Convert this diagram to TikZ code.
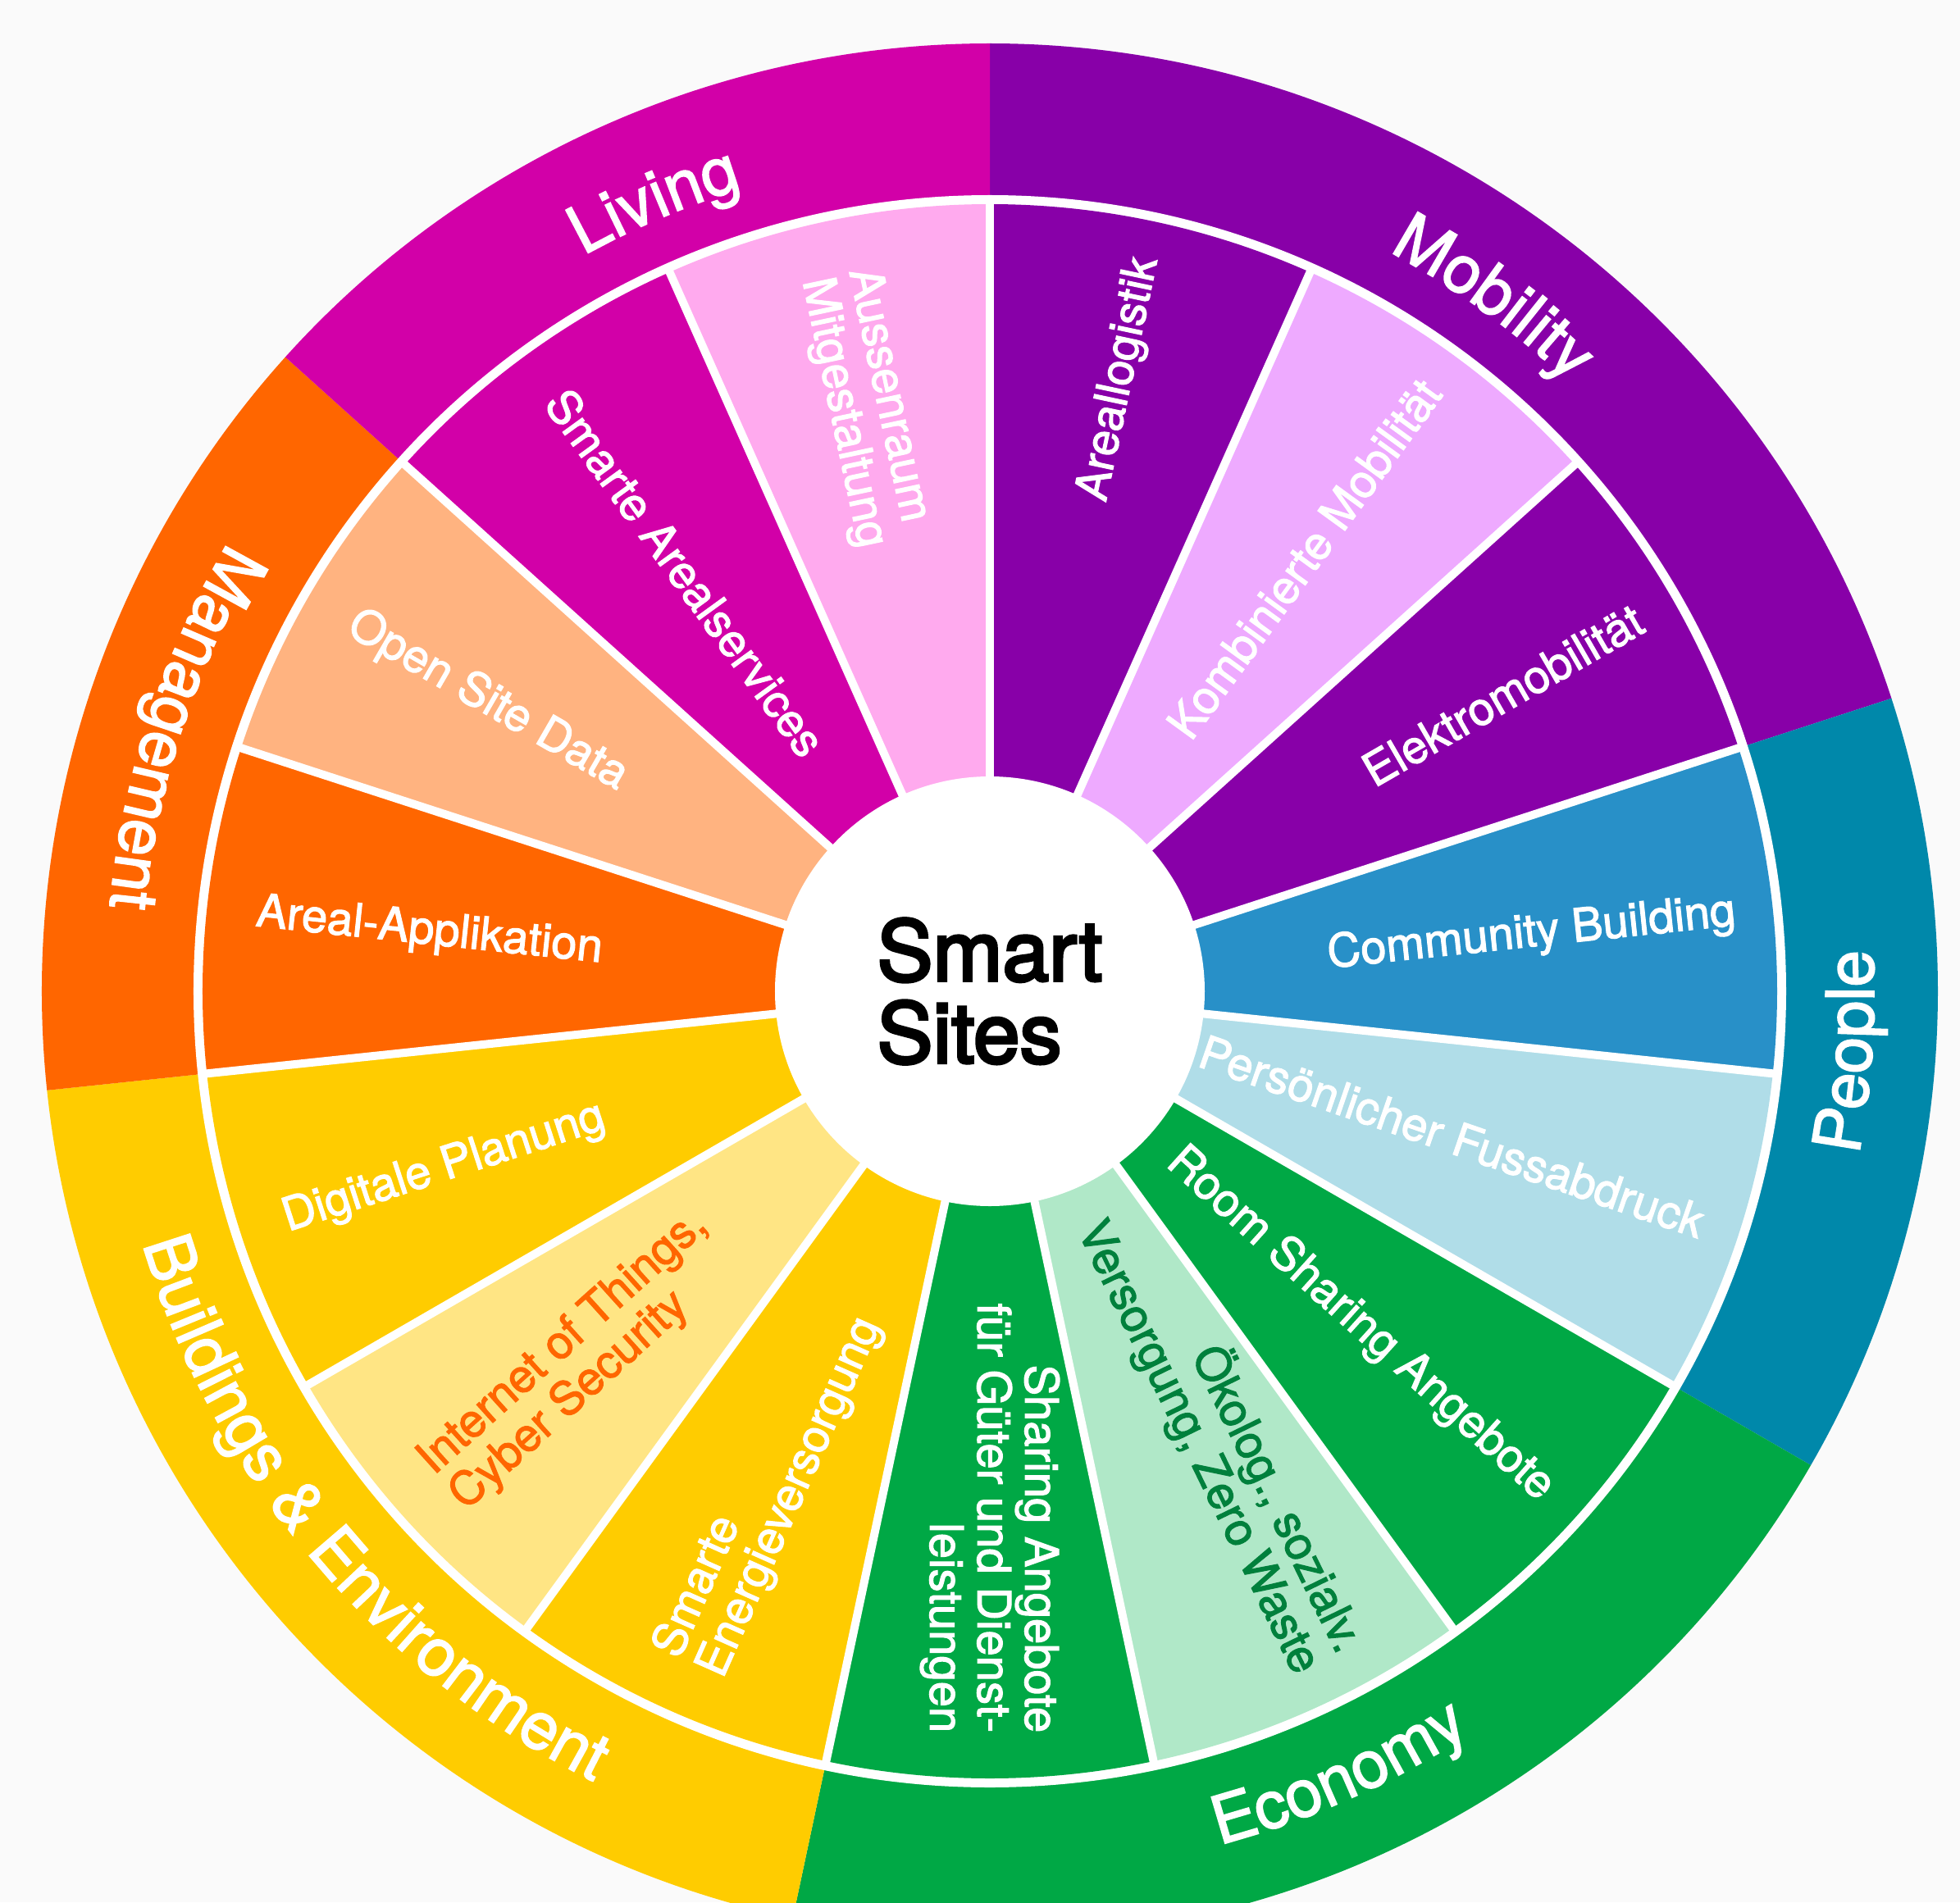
\documentclass[tikz,border=0pt]{standalone}
\usepackage{fontspec}
\setmainfont{TeX Gyre Heros}
\newfontface\labfont{TeX Gyre Heros}[FakeBold=2]
\newfontface\titfont{TeX Gyre Heros}[FakeBold=3.5]
\usetikzlibrary{decorations.text}
\definecolor{cMob}{HTML}{8800A8}
\definecolor{cLiv}{HTML}{D200A8}
\definecolor{cMan}{HTML}{FF6600}
\definecolor{cBui}{HTML}{FFCC00}
\definecolor{cEco}{HTML}{00A845}
\definecolor{cPeo}{HTML}{0088AA}
\definecolor{cCom}{HTML}{2890C8}
\definecolor{cPer}{HTML}{B0DDE8}
\definecolor{cKom}{HTML}{EEAAFF}
\definecolor{cAus}{HTML}{FFAAEE}
\definecolor{cOpe}{HTML}{FFB380}
\definecolor{cIot}{HTML}{FFE584}
\definecolor{cOek}{HTML}{B0E8C8}
\definecolor{cOekT}{HTML}{00803C}
\definecolor{bgc}{HTML}{FAFAFA}
\newcommand\mysector[4]{\fill[#1] (0,0) -- (#2:#4) arc[start angle=#2, end angle=#3, radius=#4] -- cycle;}
\newcommand\outerlab{\labfont\fontsize{23pt}{28pt}\selectfont\color{white}}
\tikzset{
  seglabel/.style={inner sep=0pt, font=\labfont\fontsize{16pt}{16.5pt}\selectfont, text=white},
  rlab/.style={seglabel, anchor=east, align=right},
  llab/.style={seglabel, anchor=west, align=left},
  sep/.style={white, line width=1mm},
  ringtext/.style={decorate, decoration={text along path, text align=center, text={|\outerlab|#1}}}
}
\begin{document}
\begin{tikzpicture}
\useasboundingbox (-120.7mm,-111.1mm) rectangle (118.3mm,120.9mm);
\clip (-120.7mm,-111.1mm) rectangle (118.3mm,120.9mm);
\fill[bgc] (-120.7mm,-111.1mm) rectangle (118.3mm,120.9mm);
% outer ring
\mysector{cMob}{90}{18}{115.6mm}
\mysector{cPeo}{18}{-30}{115.6mm}
\mysector{cEco}{-30}{-102}{115.6mm}
\mysector{cBui}{-102}{-174}{115.6mm}
\mysector{cMan}{186}{138}{115.6mm}
\mysector{cLiv}{138}{90}{115.6mm}
\fill[white] (0,0) circle[radius=97.1mm];
% inner segments
\mysector{cMob}{90}{66}{96mm}
\mysector{cKom}{66}{42}{96mm}
\mysector{cMob}{42}{18}{96mm}
\mysector{cCom}{18}{-6}{96mm}
\mysector{cPer}{-6}{-30}{96mm}
\mysector{cEco}{-30}{-54}{96mm}
\mysector{cOek}{-54}{-78}{96mm}
\mysector{cEco}{-78}{-102}{96mm}
\mysector{cBui}{-102}{-126}{96mm}
\mysector{cIot}{-126}{-150}{96mm}
\mysector{cBui}{-150}{-174}{96mm}
\mysector{cMan}{186}{162}{96mm}
\mysector{cOpe}{162}{138}{96mm}
\mysector{cLiv}{138}{114}{96mm}
\mysector{cAus}{114}{90}{96mm}
\foreach \a in {0,...,14} \draw[sep] (0,0) -- ({90-24*\a}:96.3mm);
\fill[white] (0,0) circle[radius=26.2mm];
\node[font=\titfont\fontsize{29pt}{28.5pt}\selectfont, align=left, inner sep=0pt] (center) at (0,0) {Smart\\Sites};
% inner labels (outward reading)
\node[rlab, rotate=78] (l0) at (78:91.5mm) {Areallogistik};
\node[rlab, rotate=54] (l1) at (54:91.5mm) {Kombinierte Mobilität};
\node[rlab, rotate=30] (l2) at (30:91.5mm) {Elektromobilität};
\node[rlab, rotate=6] (l3) at (6:91.5mm) {Community Building};
\node[rlab, rotate=-19] (l4) at (-18:91.5mm) {Persönlicher Fussabdruck};
\node[rlab, rotate=-42] (l5) at (-42:91.5mm) {Room Sharing Angebote};
\node[rlab, rotate=-64, text=cOekT] (l6) at (-63:91.5mm) {Ökolog., sozialv.\\Versorgung, Zero Waste};
\node[rlab, rotate=-90] (l7) at (-90:90.5mm) {Sharing Angebote\\für Güter und Dienst-\\leistungen};
% inner labels (inward reading)
\node[llab, rotate=66] (l8) at (-114:90mm) {Smarte\\Energieversorgung};
\node[llab, rotate=42, text=cMan] (l9) at (-138:90mm) {Internet of Things,\\Cyber Security};
\node[llab, rotate=18] (l10) at (-162:90.5mm) {Digitale Planung};
\node[llab, rotate=-6] (l11) at (174:90mm) {Areal-Applikation};
\node[llab, rotate=-30] (l12) at (150:90mm) {Open Site Data};
\node[llab, rotate=-54] (l13) at (126:90mm) {Smarte Arealservices};
\node[llab, rotate=-78] (l14) at (102:89.5mm) {Aussenraum\\Mitgestaltung};
% outer ring labels
\path[ringtext=Living] (148:102.5mm) arc[start angle=148, end angle=78, radius=102.5mm];
\path[ringtext=Mobility] (89:102.5mm) arc[start angle=89, end angle=19, radius=102.5mm];
\path[ringtext=People] (-39:107.8mm) arc[start angle=-39, end angle=31, radius=107.8mm];
\path[ringtext=Economy] (-101:107.8mm) arc[start angle=-101, end angle=-31, radius=107.8mm];
\path[ringtext={Buildings {\&} Environment}] (-179:107.8mm) arc[start angle=-179, end angle=-101, radius=107.8mm];
\path[ringtext=Management] (127:107.8mm) arc[start angle=127, end angle=197, radius=107.8mm];
\end{tikzpicture}
\end{document}
